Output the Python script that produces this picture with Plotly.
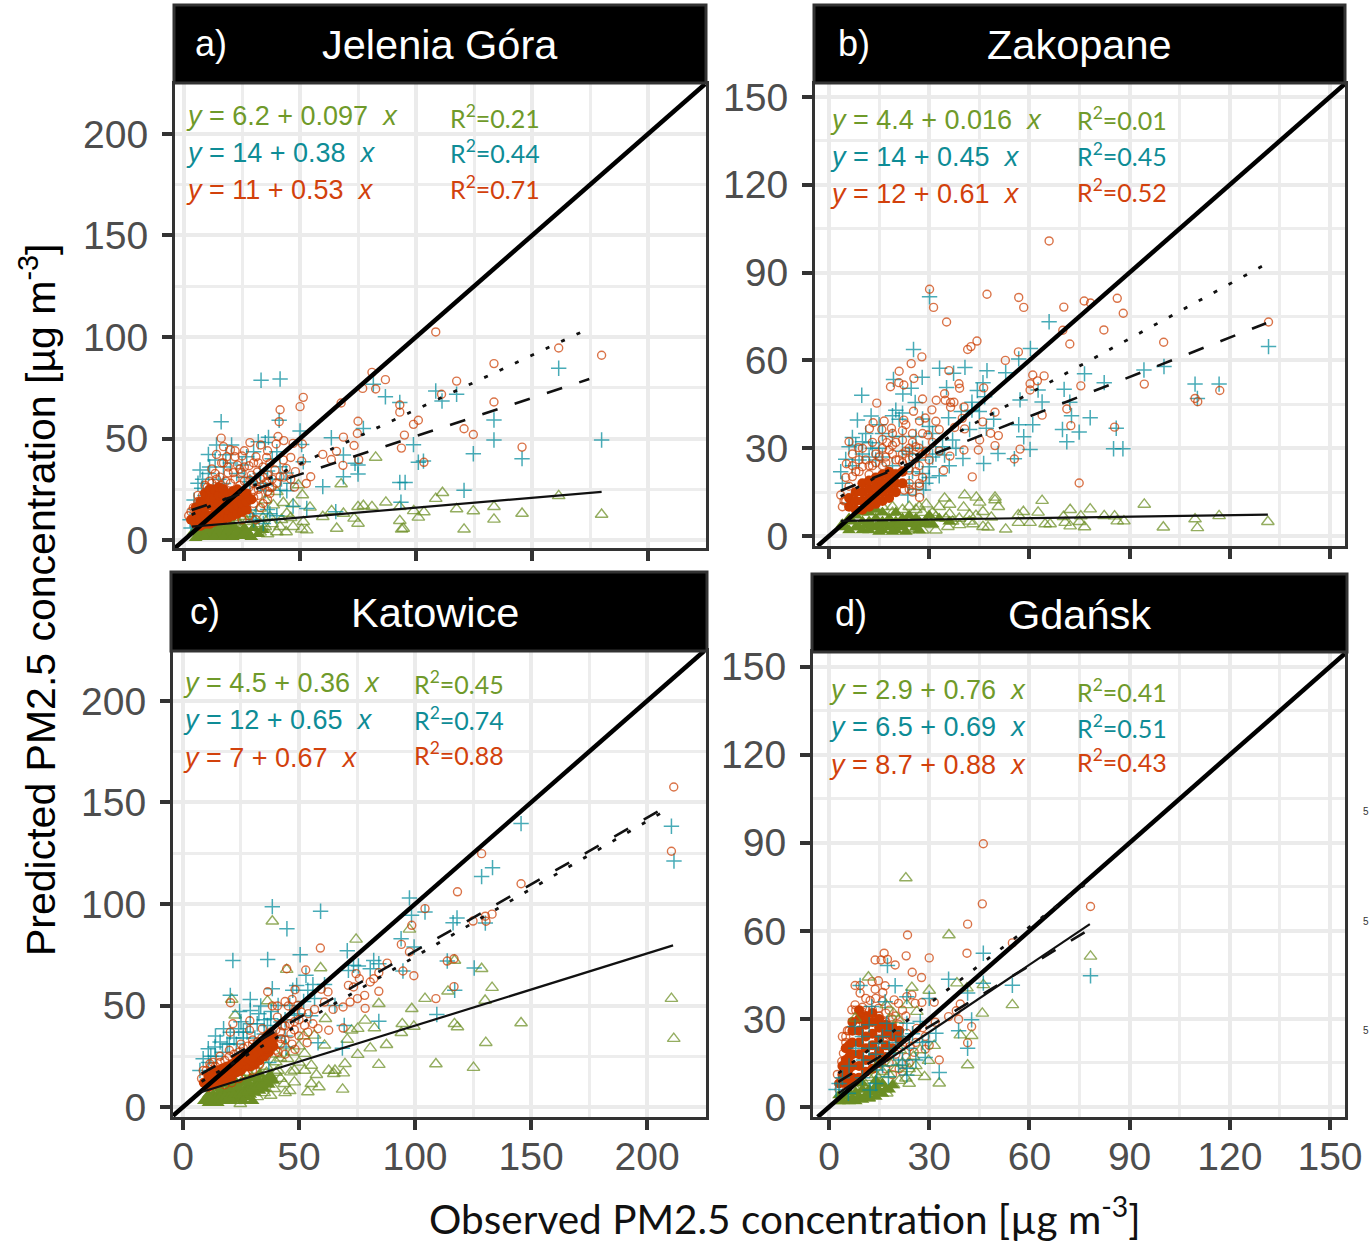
import plotly.graph_objects as go

# ---------- data: (observed, predicted) ----------
A_CIRCLE = [(108.5,102.5),(81,82.6),(77,74.7),(82.6,74.4),(86.8,79),(67.7,67.5),(51.4,70.3),(50,65.7),(41.4,64.2),(41,58.3),(180,91),(161.5,94.6),(133.6,86.9),(117.5,78.3),(111,71.8),(133.6,68),(93,66.5),(93,63),(75,58.5),(101,59),(98.9,57),(74.7,52.5),(68.7,50.7),(95,51.7),(120.7,54.8),(124.7,52),(93.7,45.3),(73.3,46.6),(145.7,45.8),(65.7,43.7),(59.8,42.2),(63.5,39.7),(68.5,36.8),(75.3,39.6),(103.4,38.3),(54.6,31.2),(52.7,27.9),(47.6,26.1),(16,50.2),(28.4,48),(33,46.8),(39.7,47.3),(40.5,51),(43,49),(47,47.6),(51,47.3),(14,42.2),(18.4,41),(22,41),(25,41.4),(17,46),(20,44.5),(31,41),(35.6,40.7),(46,40.7),(16.2,38),(28,36.6),(37,37.8),(42.8,39.4),(50.7,38.9),(13.4,32.8),(21.3,33.2),(25,33.3),(31.6,33.5),(39.2,34.5),(44,35.3),(48,33.7),(11,29),(15.5,31),(28.4,29.6),(35.6,28.7),(41.4,31.2),(30,24),(36,20),(33,16),(34,36),(30,38),(36,44),(26,44),(23,37),(19,36),(34,31),(38,30),(9,27),(6,22),(4,16),(32,22),(37,26),(30,18),(6,19),(8,22),(10,26),(12,28),(14,30),(16,27),(18,29),(20,28),(22,30),(24,27),(26,29),(28,26),(30,28),(32,25),(34,27),(36,24),(38,26),(29,32),(33,30),(24,35),(26,36),(19,33),(17,38),(12,35),(36,32),(32,38),(22,44),(30,21),(34,18),(37,23),(40,28),(43,31),(46,30),(28,12),(31,10),(25,10),(3,14),(2,12)]
A_CROSS = [(33.2,78.7),(41.4,79.3),(16,58.3),(41,59),(81.6,76.8),(86.8,70.6),(93,67.8),(108.5,73.4),(117.5,71.8),(111.2,68.5),(161.5,84.6),(133.6,59.1),(133.6,49.3),(180,49.3),(124.7,42.5),(145.7,40.1),(98.9,47),(77.3,55),(63.5,50.4),(50,53.7),(50.7,47.1),(36.4,50.6),(32,48.4),(14,46.8),(20.5,46.8),(10.5,42.2),(13.4,39.4),(6.9,34.5),(10.5,32.8),(17,36),(30,43.5),(40,43.5),(51.4,38.6),(68.7,41.9),(73.7,37.8),(75,37),(75,32.5),(68.7,31.2),(59.8,26.3),(101,38.3),(103.2,38.9),(93,28.4),(95.3,28.4),(120.7,24.5),(93.5,18.6),(65.4,14),(52.9,15.6),(47,16.7),(44.3,24.3),(41.4,24.6),(35,24.3),(28.4,28.7),(17,27.9),(4.3,19.7),(7.6,25.5),(12.6,26.3),(22.7,32.8),(32.8,32.8),(41.4,36.1),(28.4,14.8),(34.2,8.2),(2.6,10),(8,30),(20,38),(36,34),(38,40),(42,30),(27,41),(35,48),(31,13),(37,13),(5,15),(9,22),(11,36),(15,30),(18,42),(25,37),(26,31),(33,28),(38,30),(44,33),(46,28),(36,15),(40,12),(30,10),(6,28),(3,6)]
A_TRI = [(82.6,40.7),(67.7,27.6),(161.5,21.8),(111.4,23.3),(108.5,20.4),(87,18.6),(81,16.4),(75,16.4),(77.3,16.9),(68.7,13.1),(63.6,14.4),(59.8,11.5),(93,16.4),(99,14.4),(103.4,13.8),(101,11.2),(93,9.5),(94.5,5.7),(93.8,5.3),(117.5,15.3),(124.7,14.3),(133.6,16.4),(133.6,10.2),(145.7,13.1),(180,12.6),(120.7,5.3),(65.8,5.7),(75,8.2),(73.3,10.7),(54.3,16.1),(51,22.2),(49.3,27.1),(47,17.7),(42.8,18.4),(38.5,17.2),(35,19.7),(40,23.8),(32.8,15.6),(44.3,13.1),(51.4,9),(52.9,4.9),(50.7,5.3),(47,6.6),(41.4,6.6),(35,6.6),(32.8,3.8),(26.3,2.5),(30,9.9),(25.6,11.5),(37,11.5),(18.4,2.5),(20,9),(23,9),(27,9),(31,7),(34,11),(38,8),(42,10),(46,11),(28,13),(22,11),(29,4),(36,3),(40,4),(44,4),(33,8),(24,5),(19,9)]
A_CIRCLE_CORE = [(3,10),(5,8),(5,12),(5,16),(7,7),(7,11),(7,15),(7,19),(9,8),(9,12),(9,16),(9,20),(9,23),(11,8),(11,12),(11,17),(11,21),(11,25),(13,9),(13,13),(13,17),(13,21),(13,25),(15,10),(15,14),(15,18),(15,22),(15,26),(17,10),(17,14),(17,18),(17,22),(17,25),(19,11),(19,15),(19,19),(19,23),(21,12),(21,16),(21,20),(21,24),(23,13),(23,17),(23,21),(23,25),(25,14),(25,18),(25,22),(27,15),(27,19),(27,23),(29,20)]
A_TRI_CORE = [(4,4),(6,2),(6,6),(8,3),(8,7),(10,1.5),(10,5),(12,3),(12,7),(14,1.5),(14,5),(16,3),(16,7),(18,1.5),(18,5),(20,3),(20,7),(22,2),(22,6),(24,4),(26,6),(28,3),(30,6),(26,2),(5,1),(7,5),(9,1.5),(11,5),(13,1.5),(15,5),(17,1.5),(19,5),(21,1.5),(23,4),(25,2),(27,4),(29,1.5),(32,3),(34,5)]

B_CIRCLE = [(65.9,100.8),(30.1,84.3),(31.3,78.1),(35.2,73.1),(47.3,82.6),(56.8,81.5),(58.3,78.1),(70.3,78.2),(76.4,80.3),(78.3,79.6),(86.3,81.2),(88.1,76.1),(82.3,70.4),(70,70.3),(72.1,65.6),(100.2,66.2),(131.6,73.1),(44.3,66.6),(42.5,64.7),(41.5,63.7),(52.8,60),(56.7,62.9),(27.8,61.2),(24.6,58.9),(35.9,56.5),(21,56.3),(25.4,53.8),(20.9,52.4),(22.4,51.6),(18.4,51),(38.9,52),(39.1,50.5),(46.3,50.6),(61,55),(64.4,54.7),(62.4,53),(60.2,52),(60.2,49.9),(75.4,51.3),(94.4,51.9),(109.6,47),(110.4,45.9),(117,49.7),(14.3,45.4),(28,46.8),(34.6,48.6),(32.1,46.4),(34.8,46.4),(36.4,45.6),(37.4,45.7),(36.4,44),(40.4,44.1),(30.8,43.1),(25.3,42.6),(28.8,40.3),(27.1,39.3),(22.4,39.6),(16.5,39.3),(13.2,38.7),(12.1,36.7),(15.8,36.4),(18.7,36.8),(32,39.2),(33,36.4),(39.9,40.2),(37.6,37.1),(40.6,36.6),(46,39),(49.7,42.3),(71.2,43.4),(63.8,41.3),(72.4,37.7),(85.5,37.2),(48.4,35.1),(50.7,34.3),(45.1,32.8),(49.7,30.9),(44.7,29.4),(57.2,29.7),(55.5,26.3),(36.2,27.3),(40.4,29.4),(34.3,22.4),(42.9,20.2),(74.9,18.1),(27.1,13.2),(28,35),(29.6,34.5),(6,32.2),(8.8,30.2),(17.3,31.9),(5.2,24.7),(3.5,14),(14,28),(18,29.4),(22,32.8),(25,35),(26,30.5),(20,26),(24,22.5),(26,22),(24,18),(22.5,15.7),(20,21.4),(10,23.7),(7,20.3),(6,17),(16,30),(20,32),(17,27),(14,25),(22,28),(24,30),(28,28),(12,24),(19,35),(23,38),(8,22),(9,26),(24,26),(4.5,12),(27,18),(25,15),(5,20),(7,24),(9,22),(11,26),(13,24),(15,27),(17,25),(19,28),(21,26),(23,29),(25,27),(27,30),(10,30),(13,32),(16,33),(19,31),(22,36),(25,32),(27,24),(29,29),(31,32),(33,29),(12,21),(16,24),(22,25),(24,16),(27,17),(5,12),(4,10),(7,28),(30,26),(28,20)]
B_CROSS = [(30.1,81.7),(65.9,73.2),(131.6,64.7),(25.3,63.7),(60.3,64.1),(56.8,60.5),(33.1,57.3),(40.7,57.6),(37.3,55.6),(47.3,56.5),(52.9,55.8),(76.5,55.4),(27.9,54.2),(19.3,53.5),(94.3,56.7),(100.3,57.9),(82.4,52.4),(109.6,51.9),(116.8,51.9),(35.2,50.7),(46.1,52.4),(44.4,49.7),(24.6,50.5),(22.1,48.5),(9.8,48.1),(70.4,50.1),(62.6,49.9),(57.2,46.5),(63.8,45.8),(72.1,45.7),(25.8,45.6),(42.8,45.7),(46.6,47.6),(110.3,47),(42.8,43),(39.6,42.5),(45,42.5),(12.6,41),(8.5,39.6),(19,41.1),(21,39.9),(35.8,40.4),(49.3,39.9),(72.6,41.1),(78.2,40.4),(56.8,38),(61,38),(69.9,36.4),(86,36.8),(74.9,35.5),(58.3,33.9),(71.2,32.2),(42.1,36.4),(47.1,36.8),(30,37.4),(26,34),(22,34),(7,33.7),(12.5,31.9),(10,32.2),(6,30.5),(37,32.8),(34,30.5),(60.2,29.6),(85.2,29.8),(88,29.8),(50.6,28.2),(55.5,26.4),(40.1,26.5),(46.3,24.8),(34.6,27.7),(30,23.7),(33,20.6),(5,26.2),(3.5,22),(28,21.4),(28.3,15.7),(23.6,14),(5.5,11.2),(9,26),(14,26),(19,34),(24,28),(27,26),(16,35),(22,42),(25,30),(15,30),(8,31),(12,27),(31,27),(29,18),(4,18),(7,24),(10,28),(13,30),(16,27),(19,24),(22,29),(25,22),(28,30),(31,35),(15,38),(11,35),(30,20),(32,28),(36,24),(38,30),(24,18),(26,16),(20,43),(28,40)]
B_TRI = [(94.4,10.8),(63.8,12.1),(78.2,9.2),(72.2,9),(40.6,14),(34.6,12.9),(44.1,13.2),(49.7,13.2),(49.7,12.3),(45.1,11.5),(36.1,10.8),(40.3,9.8),(50.7,10),(29.1,10.9),(46.1,8.3),(58.2,8.3),(62.6,8.1),(36.1,7.5),(42.1,7.2),(48.6,6.4),(56.7,7.2),(82.4,6.9),(85.5,6.8),(116.8,6.9),(70.2,6.6),(75.4,6.8),(109.6,5.8),(131.4,4.9),(86.3,5.1),(88.3,5.1),(75,4.9),(70.7,4.6),(56.7,4.6),(60.2,4.6),(64.7,4.1),(66.2,4.1),(72.2,3.4),(76.5,3.1),(100.1,3),(110.3,2.8),(52.9,2.3),(46.1,3.2),(47.6,3),(43.1,4.1),(39.1,3.8),(35.6,3.2),(30.6,3.8),(26,2.6),(24,10),(19,10),(32,6.6),(22,9),(26,9),(28,8),(31,8),(33,10),(37,5),(24,2),(28,2),(32,2),(35,6),(39,6),(42,5),(44,7),(30,5),(27,10),(19,8),(16,10),(13,10)]
B_CIRCLE_CORE = [(6,10),(6,13),(8,9),(8,12),(8,15),(10,9),(10,12),(10,15),(10,18),(12,10),(12,13),(12,16),(12,19),(14,11),(14,14),(14,17),(14,20),(16,12),(16,15),(16,18),(16,21),(18,13),(18,16),(18,19),(18,22),(20,15),(20,18),(20,21),(22,18),(22,22)]
B_TRI_CORE = [(4,4),(6,2),(6,6),(8,3),(8,7),(10,2),(10,5),(10,8),(12,2),(12,5),(12,8),(14,3),(14,6),(14,9),(16,2),(16,5),(16,8),(18,3),(18,6),(20,2),(20,5),(20,8),(22,3),(22,6),(24,4),(24,7),(26,3),(26,6),(28,4),(30,7),(5,3),(7,5),(9,3),(11,3.5),(13,3.5),(15,4),(17,4),(19,4),(21,4),(23,5),(25,5),(27,5),(29,5),(15,1.5),(19,1.5),(23,1.5),(27,2),(31,4),(33,6),(36,5)]

C_CIRCLE = [(211.5,157.6),(210.5,126),(128.7,124.8),(145.7,110),(118.3,106),(104.3,97.7),(133.2,95),(130.3,94),(130.6,91.5),(125,91.6),(98.6,89.5),(94.1,80.1),(97.6,76.4),(59.2,78.3),(44.7,68.1),(52.9,67.5),(88,70.9),(116.8,73),(113.9,71.9),(94.8,67),(99.5,64.7),(116.8,59.3),(84.4,66.2),(82.2,63.2),(80.7,61.6),(84.4,57),(74.6,65.7),(71.3,59.9),(76,63.2),(73.5,59.1),(62.5,56.7),(59.6,58),(36.5,56.8),(48.3,57.8),(20.5,51.4),(78.3,55),(75.2,53.4),(72,51.7),(78.5,48.6),(109,53.4),(69,49.3),(64.7,48.1),(61,51.7),(56.7,48.1),(56,41),(58.2,38.6),(62.8,37.8),(69,38.9),(53.8,36.9),(52.4,40.2),(53.5,31.7),(48.3,28.4),(40.7,49.8),(38.5,49.8),(45.4,49.8),(28.8,42.5),(21.5,41),(20.4,36.9),(28.7,37.8),(34.2,38.6),(40.7,44.3),(46.5,36.1),(42.2,33.7),(11.6,21.3),(8.7,18),(8,14),(49.5,50),(51,46.8),(43,40),(37,36),(48,42),(54,46),(30,33),(25,31),(20,28),(16,25),(13,22),(44,26),(47,31),(41,27),(50,35),(47,53),(44,52),(10,18),(12,20),(14,20),(16,22),(18,23),(20,25),(22,26),(24,27),(26,29),(28,30),(30,31),(32,32),(34,34),(36,35),(38,37),(40,38),(42,37),(44,40),(40,28),(42,31),(44,33),(46,41),(36,25),(33,21),(30,18),(27,16),(24,14),(21,12),(18,11),(48,38),(50,43)]
C_CROSS = [(210.5,138.3),(211.6,121.2),(145.7,139.6),(133.4,117.9),(128.7,113.5),(97.6,103),(38.5,98.7),(59.3,96.4),(44.8,87.8),(98.5,94.4),(104.3,96),(118.1,93.1),(116.4,90.8),(130.3,90.6),(94,82.9),(99.6,78.8),(70.8,77),(50.5,75),(21.5,72.2),(36.5,72.7),(82.2,72.2),(73.5,69.8),(75.6,69.5),(84.4,70.6),(80.7,68.1),(71.3,67.3),(94.8,67),(113.9,71.9),(125.5,68.5),(117.1,57.5),(53,64.9),(61,60.3),(56,60.3),(49,59.9),(38.5,58.3),(47.3,57.5),(53.8,57.5),(20.4,55),(29,53),(33.5,49.8),(24.4,47.1),(29,47.6),(56.7,53.4),(65.5,50),(109.4,45.6),(84.4,42.2),(69.5,40.2),(58.2,31.7),(68.7,29),(44.4,29.6),(36.4,40.2),(32.7,46),(17.5,38.6),(20.4,36.9),(24,38.6),(16,32),(10.9,28.7),(13.8,29.6),(8.7,23.8),(7.3,18),(27.6,36.9),(42.2,41.9),(48,45.2),(37.8,43.5),(14,35),(19,31),(22,34),(26,34),(31,34),(35,36),(12,25),(25,42),(35,28),(40,34),(11,22),(14,25),(17,27),(20,31),(23,31),(26,37),(29,41),(32,41),(35,43),(38,47),(41,50),(44,43),(46,50),(50,46),(52,52),(31,28),(37,22),(26,22),(55,45),(44,35)]
C_TRI = [(210.5,53.4),(211.5,33.7),(74.6,82.6),(97.6,87.5),(38.5,91.5),(44.7,67.7),(59.3,68.5),(117,72.2),(128.7,68.1),(133.2,58.8),(114.2,57),(130.2,52.5),(104.3,53.4),(98.6,48.4),(84.4,50.9),(21,53),(22.5,45.2),(36.4,52.2),(94.5,41),(94.1,36.6),(99.5,39.7),(117,41),(118.3,39.4),(145.7,41.4),(130.5,31.7),(109,21.2),(125.2,19.4),(84.4,20.9),(87.7,30.7),(80.7,29),(82.5,38.9),(78.5,42.7),(75.3,38.6),(72.7,37.8),(70.8,33.3),(75.3,25.8),(69.8,21.3),(69.1,16.7),(65.5,18),(62.8,18),(65,16.4),(68.8,8.7),(58.6,9.9),(53.8,7.4),(61,30.4),(61.4,43.5),(56.7,35.3),(52.4,26.3),(55.3,20.5),(57.5,15.9),(55.3,11.5),(48,12.3),(52.4,18),(45.1,23.8),(46.5,17.2),(43.6,11.5),(37.8,5.7),(24.7,1.6),(40,22.2),(39.3,9),(33.5,10.7),(42,14),(41,18),(46,8),(33,16),(20,15),(24,17),(28,17),(32,18),(36,20),(40,26),(42,24),(44,30),(47,27),(50,30),(52,35),(50,22),(48,18),(35,7),(32,5),(28,4),(44,7),(40,17),(36,17)]
C_CIRCLE_CORE = [(9,12),(11,10),(11,15),(13,11),(13,14),(13,17),(15,12),(15,15),(15,18),(17,13),(17,16),(17,19),(19,14),(19,17),(19,20),(21,15),(21,18),(21,21),(23,17),(23,20),(23,23),(25,18),(25,21),(25,24),(27,20),(27,23),(27,26),(29,20),(29,23),(29,26),(31,21),(31,24),(31,27),(33,23),(33,26),(33,29),(35,25),(35,28),(35,31),(37,27),(37,30),(37,33),(39,30),(39,34),(10,11),(12,13),(14,14),(16,15),(18,17),(20,18),(22,20),(24,21),(26,23),(28,24),(30,25),(32,27),(34,28),(36,29),(38,32)]
C_TRI_CORE = [(9,3),(11,2),(11,6),(13,2),(13,6),(15,2),(15,6),(15,10),(17,3),(17,7),(19,3),(19,7),(19,11),(21,3),(21,7),(21,11),(23,4),(23,8),(23,12),(25,4),(25,8),(25,12),(27,5),(27,9),(27,13),(29,6),(29,10),(29,14),(31,7),(31,11),(33,8),(33,12),(33,16),(35,9),(35,13),(37,11),(37,15),(39,13),(10,4),(12,4),(14,4),(16,5),(18,5),(20,5),(22,6),(24,6),(26,7),(28,8),(30,9),(32,10),(34,11),(36,13),(38,15),(16,9),(20,9),(24,10),(28,12),(32,14),(30,3),(26,3)]

D_CIRCLE = [(46.2,89.7),(45.9,69.2),(78.3,68.3),(41.5,62.3),(23.5,58.6),(41.3,52.4),(54.9,55.9),(23.1,51.5),(30,50.8),(16.5,52.4),(13.8,50.1),(15.6,50.1),(17.5,50.3),(19.8,48.4),(24.9,45.9),(27.7,44.1),(7.8,41.4),(9.3,41.4),(12.9,42.7),(14.8,43),(16.8,41.3),(13.8,40.1),(9.3,38.8),(16.1,39),(12.3,36.3),(19.5,36.5),(7.8,34.8),(6.8,33.1),(9.8,32.5),(14.8,33.6),(20.8,35.3),(23.3,37.6),(24.8,38.2),(25.8,35.3),(27.8,35.6),(31.5,35.7),(39.3,35.1),(38.1,32.8),(35.8,30.8),(38.8,29.9),(31.8,28.9),(42.7,27.4),(41.5,21.9),(28.8,24),(28.8,19.7),(33,16),(25.5,18.6),(23.1,16.9),(5.5,26),(4.3,18.3),(3.8,15.5),(2.5,11.1),(23.3,25.1),(20.8,23.4),(18.3,24),(24.3,20.6),(26.3,26.8),(11,33),(13,31),(17,32),(19,30),(21,28),(23,31),(16,29),(18,27),(22,21),(20,18),(18,15),(21,13),(4,24),(5,22),(5,24),(6,26),(8,28),(8,33),(10,34),(11,37),(13,33),(15,31),(17,29),(19,28),(21,26),(23,22),(6,10),(4,9),(3,6),(18,33),(20,31),(22,33),(16,36),(14,37),(24,15),(22,12),(19,11),(17,13),(26,22),(28,27),(30,21)]
D_CROSS = [(78.3,44.7),(46.2,52.4),(17.5,48.2),(35.8,43.5),(19.8,41.3),(9.3,41.4),(54.9,41.5),(46.2,42.2),(41.5,38.8),(23.3,37.6),(30,37),(16.8,35.9),(12.8,34.2),(42.7,29.7),(38.8,26),(41.5,20),(32,25.1),(28.8,16.9),(33,11.8),(23.3,28.5),(27.3,29.1),(7.8,27.4),(23.3,13.2),(23.3,10.9),(17.8,10.3),(14.8,21.7),(29.8,22.3),(20.8,14.3),(2.1,6),(5.8,4.7),(12.3,5.8),(10.3,16),(17.3,28.5),(19.3,18.3),(14.3,12.6),(16,24),(19,26),(25,25),(12,28),(22,16),(4,10),(6,14),(8,20),(10,24),(12,20),(14,18),(16,14),(18,20),(20,22),(22,24),(24,20),(26,16),(28,22),(10,10),(14,8),(3,8)]
D_TRI = [(23,78),(35.9,58.6),(78.3,51.3),(11.8,44.2),(38.3,42.2),(24.8,40.7),(30,39.7),(41.3,40.5),(46.2,41.6),(54.9,34.8),(45.9,31.9),(26.3,32.5),(19.3,31.9),(17.1,34.8),(23.3,34.8),(7.8,30.2),(20.8,29.7),(39.3,24.5),(42.7,24.3),(31.5,20.9),(29.8,15.8),(41.5,14.3),(26.1,11.7),(28.6,10.3),(23,9.8),(33,8.1),(19.3,7.5),(17.3,4.7),(25.3,17.2),(27.3,19.4),(21.3,19.4),(15.3,8),(8,6),(10,9),(12,10),(14,11),(16,12),(18,11),(20,13),(22,15),(24,13),(26,14),(19,15),(21,9),(24,8),(15,15),(6,4),(12,3)]
D_CIRCLE_CORE = [(3,8),(4,11),(4,14),(5,8),(5,12),(5,16),(5,20),(6,9),(6,13),(6,17),(6,21),(7,10),(7,14),(7,18),(7,22),(7,26),(9,10),(9,14),(9,18),(9,22),(9,26),(9,30),(11,12),(11,16),(11,20),(11,24),(11,28),(13,13),(13,17),(13,21),(13,25),(13,29),(15,15),(15,19),(15,23),(15,27),(17,17),(17,21),(17,25),(19,20),(19,24),(21,23),(7,29),(9,33),(11,31),(13,32),(15,30),(17,28),(19,27),(21,26)]
D_TRI_CORE = [(3,2),(3,4),(4,4),(5,3.5),(6,2),(6,5),(8,2),(8,5),(10,2.5),(10,6),(12,3),(12,6),(14,3.5),(14,7),(16,4.5),(16,8),(18,6),(4,2),(7,3),(9,3.5),(11,4),(13,5),(15,5.5),(17,6),(19,7.5),(10,8),(14,9)]

# fitted lines: [x start, x end], [y start, y end]
A_FITS = {"solid": ([3.3, 180], [6.6, 23.7]), "dash": ([3.3, 174.7], [14.8, 79.3]), "dot": ([3.3, 175.7], [12.5, 104.8])}
B_FITS = {"solid": ([3.5, 131.4], [5.2, 7.3]), "dash": ([3.5, 130.9], [15.5, 72.7]), "dot": ([3.5, 129.9], [13.5, 92.3])}
C_FITS = {"solid": ([8, 211.2], [7.4, 79.6]), "dash": ([8, 206.3], [16.4, 146.6]), "dot": ([8, 206.3], [12.6, 145])}
D_FITS = {"solid": ([2.8, 78.1], [4.7, 62.3]), "dash": ([2.8, 78.1], [8.6, 60.6]), "dot": ([2.8, 78], [11.5, 77])}

EQ_GREEN = ["y = 6.2 + 0.097  x", "y = 4.4 + 0.016  x", "y = 4.5 + 0.36  x", "y = 2.9 + 0.76  x"]
EQ_TEAL = ["y = 14 + 0.38  x", "y = 14 + 0.45  x", "y = 12 + 0.65  x", "y = 6.5 + 0.69  x"]
EQ_ORANGE = ["y = 11 + 0.53  x", "y = 12 + 0.61  x", "y = 7 + 0.67  x", "y = 8.7 + 0.88  x"]
R2_GREEN = ["0.21", "0.01", "0.45", "0.41"]
R2_TEAL = ["0.44", "0.45", "0.74", "0.51"]
R2_ORANGE = ["0.71", "0.52", "0.88", "0.43"]
PANEL_LETTERS = ["a)", "b)", "c)", "d)"]
PANEL_CITIES = ["Jelenia Góra", "Zakopane", "Katowice", "Gdańsk"]
WIDE_TICKS = [0, 50, 100, 150, 200]
NARROW_TICKS = [0, 30, 60, 90, 120, 150]

# ---------- styling / layout ----------
W, H = 1370, 1243
GREEN, TEAL, ORANGE = "#6B8E23", "#008B9B", "#CC3D00"
TXT_GREEN, TXT_TEAL, TXT_ORANGE = "#6F9A2A", "#0E8C96", "#D2410C"
AXC = "#333333"
TICK_GREY = "#4D4D4D"
SANS = "Liberation Sans, Arial, sans-serif"
CAL = "Lato, Open Sans, sans-serif"

def px(x): return x / W
def py(y): return 1 - y / H

panels = [
    dict(box=(175, 84, 706, 548), xr=(-3.9, 225), yr=(-3.9, 224.6), ticks=WIDE_TICKS, mt=25, strip=(174, 5, 706, 83),
         circ=A_CIRCLE, cross=A_CROSS, tri=A_TRI, cc=A_CIRCLE_CORE, tc=A_TRI_CORE, fits=A_FITS,
         eqx=184, eqy=(116, 153, 190), rx=448, ry=(116, 152, 187), lx=193, cx=440, sy=44, order="gto", xlab=False),
    dict(box=(815, 84, 1345, 546), xr=(-4.2, 154.5), yr=(-3.4, 154.4), ticks=NARROW_TICKS, mt=15, strip=(814, 5, 1345, 83),
         circ=B_CIRCLE, cross=B_CROSS, tri=B_TRI, cc=B_CIRCLE_CORE, tc=B_TRI_CORE, fits=B_FITS,
         eqx=828, eqy=(120, 157, 194), rx=1075, ry=(118, 155, 190), lx=836, cx=1079, sy=44, order="gto", xlab=False),
    dict(box=(173, 651, 706, 1117), xr=(-4.3, 225.4), yr=(-4.9, 224.6), ticks=WIDE_TICKS, mt=25, strip=(171, 572, 707, 651),
         circ=C_CIRCLE, cross=C_CROSS, tri=C_TRI, cc=C_CIRCLE_CORE, tc=C_TRI_CORE, fits=C_FITS,
         eqx=181, eqy=(683, 720, 758), rx=412, ry=(682, 718, 753), lx=188, cx=435, sy=612, order="gto", xlab=True),
    dict(box=(813, 652, 1345, 1117), xr=(-4.8, 154.5), yr=(-3.4, 155), ticks=NARROW_TICKS, mt=15, strip=(812, 574, 1347, 652),
         circ=D_CIRCLE, cross=D_CROSS, tri=D_TRI, cc=D_CIRCLE_CORE, tc=D_TRI_CORE, fits=D_FITS,
         eqx=827, eqy=(690, 727, 765), rx=1075, ry=(690, 726, 761), lx=833, cx=1079, sy=614, order="ogt", xlab=True),
]

fig = go.Figure()
shapes, annos = [], []
layout = {}

def xs(pts): return [p[0] for p in pts]
def ys(pts): return [p[1] for p in pts]

def text(x, y, s, size, color, font=SANS, anchor="left", **kw):
    annos.append(dict(x=px(x), y=py(y), xref="paper", yref="paper", text=s, showarrow=False,
                      xanchor=anchor, yanchor="middle", font=dict(size=size, color=color, family=font), **kw))

def eq_html(s):
    s = s.replace("  ", "\u00a0\u00a0")
    left, right = s.split(" = ")
    return "<i>" + left + "</i> = " + right[:-1] + "<i>" + right[-1] + "</i>"

for i, p in enumerate(panels):
    n = "" if i == 0 else str(i + 1)
    xa, ya = "x" + n, "y" + n
    l, t, r, b = p["box"]
    common = dict(showline=True, linecolor=AXC, linewidth=3, mirror=True, ticks="outside", tickwidth=3.5, ticklen=10,
                  tickcolor=AXC, tickvals=p["ticks"], showgrid=True, gridcolor="#EBEBEB", gridwidth=4, zeroline=False,
                  automargin=False, tickfont=dict(size=39, color=TICK_GREY, family=SANS),
                  minor=dict(dtick=p["mt"], tick0=p["mt"], showgrid=True, gridcolor="#EDEDED", gridwidth=2.5, ticks=""))
    layout["xaxis" + n] = dict(domain=[px(l), px(r)], range=list(p["xr"]), anchor=ya, showticklabels=p["xlab"], ticklabelstandoff=-7, **common)
    layout["yaxis" + n] = dict(domain=[py(b), py(t)], range=list(p["yr"]), anchor=xa, ticklabelstandoff=6, **common)

    def marks(pts, sym, col, size, op=0.72, lw=1.4):
        fig.add_trace(go.Scatter(x=xs(pts), y=ys(pts), xaxis=xa, yaxis=ya, mode="markers", hoverinfo="skip",
                                 marker=dict(symbol=sym, size=size, color=col, opacity=op, line=dict(width=lw, color=col))))
    def green():
        marks(p["tri"], "triangle-up-open", GREEN, 11)
        marks(p["tc"], "triangle-up", GREEN, 12, op=1, lw=0)
    def teal():
        marks(p["cross"], "cross-thin-open", TEAL, 11, lw=1.5)
    def orange():
        marks(p["cc"], "circle", ORANGE, 10, op=1, lw=0)
        marks(p["circ"], "circle-open", ORANGE, 8)
    for key in p["order"]:
        {"g": green, "t": teal, "o": orange}[key]()

    # 1:1 line
    lim = [max(p["xr"][0], p["yr"][0]), min(p["xr"][1], p["yr"][1])]
    fig.add_trace(go.Scatter(x=lim, y=lim, xaxis=xa, yaxis=ya, mode="lines", hoverinfo="skip",
                             line=dict(color="black", width=4.5)))
    for key, dash, w in (("solid", "solid", 2.2), ("dash", "16px,18px", 2.6), ("dot", "4px,13px", 2.8)):
        fx, fy = p["fits"][key]
        fig.add_trace(go.Scatter(x=fx, y=fy, xaxis=xa, yaxis=ya, mode="lines", hoverinfo="skip",
                                 line=dict(color="#111111", width=w, dash=dash)))

    # strip
    sl, st, sr, sb = p["strip"]
    shapes.append(dict(type="rect", xref="paper", yref="paper", x0=px(sl), x1=px(sr), y0=py(sb), y1=py(st),
                       fillcolor="black", line=dict(color=AXC, width=3), layer="above"))
    text(p["lx"], p["sy"] - 1, PANEL_LETTERS[i], 36, "white")
    text(p["cx"], p["sy"], PANEL_CITIES[i], 41.5, "white", anchor="center")

    # equations
    for k, (eqs, r2s, c) in enumerate(((EQ_GREEN, R2_GREEN, TXT_GREEN), (EQ_TEAL, R2_TEAL, TXT_TEAL), (EQ_ORANGE, R2_ORANGE, TXT_ORANGE))):
        text(p["eqx"], p["eqy"][k], eq_html(eqs[i]), 27, c)
        text(p["rx"], p["ry"][k], "R<sup>2</sup>=" + r2s[i], 25, c, font=CAL)

# shared titles
annos.append(dict(x=px(38), y=py(600), xref="paper", yref="paper", text="Predicted PM2.5 concentration [µg m<sup>-3</sup>]",
                  xanchor="center", yanchor="middle", showarrow=False, textangle=-90,
                  font=dict(size=41, color="black", family=SANS)))
text(785, 1216, "Observed PM2.5 concentration [µg m<sup>-3</sup>]", 40.5, "#111111", font=CAL, anchor="center")
for yy in (811, 921, 1030):
    text(1366, yy, "5", 10, "#333333", anchor="center")

fig.update_layout(width=W, height=H, margin=dict(l=0, r=0, t=0, b=0, pad=0), autosize=False,
                  paper_bgcolor="white", plot_bgcolor="white", showlegend=False, shapes=shapes, annotations=annos, **layout)
fig.write_html("out.html", config={"displayModeBar": False}, post_script="document.body.style.margin='0';")
